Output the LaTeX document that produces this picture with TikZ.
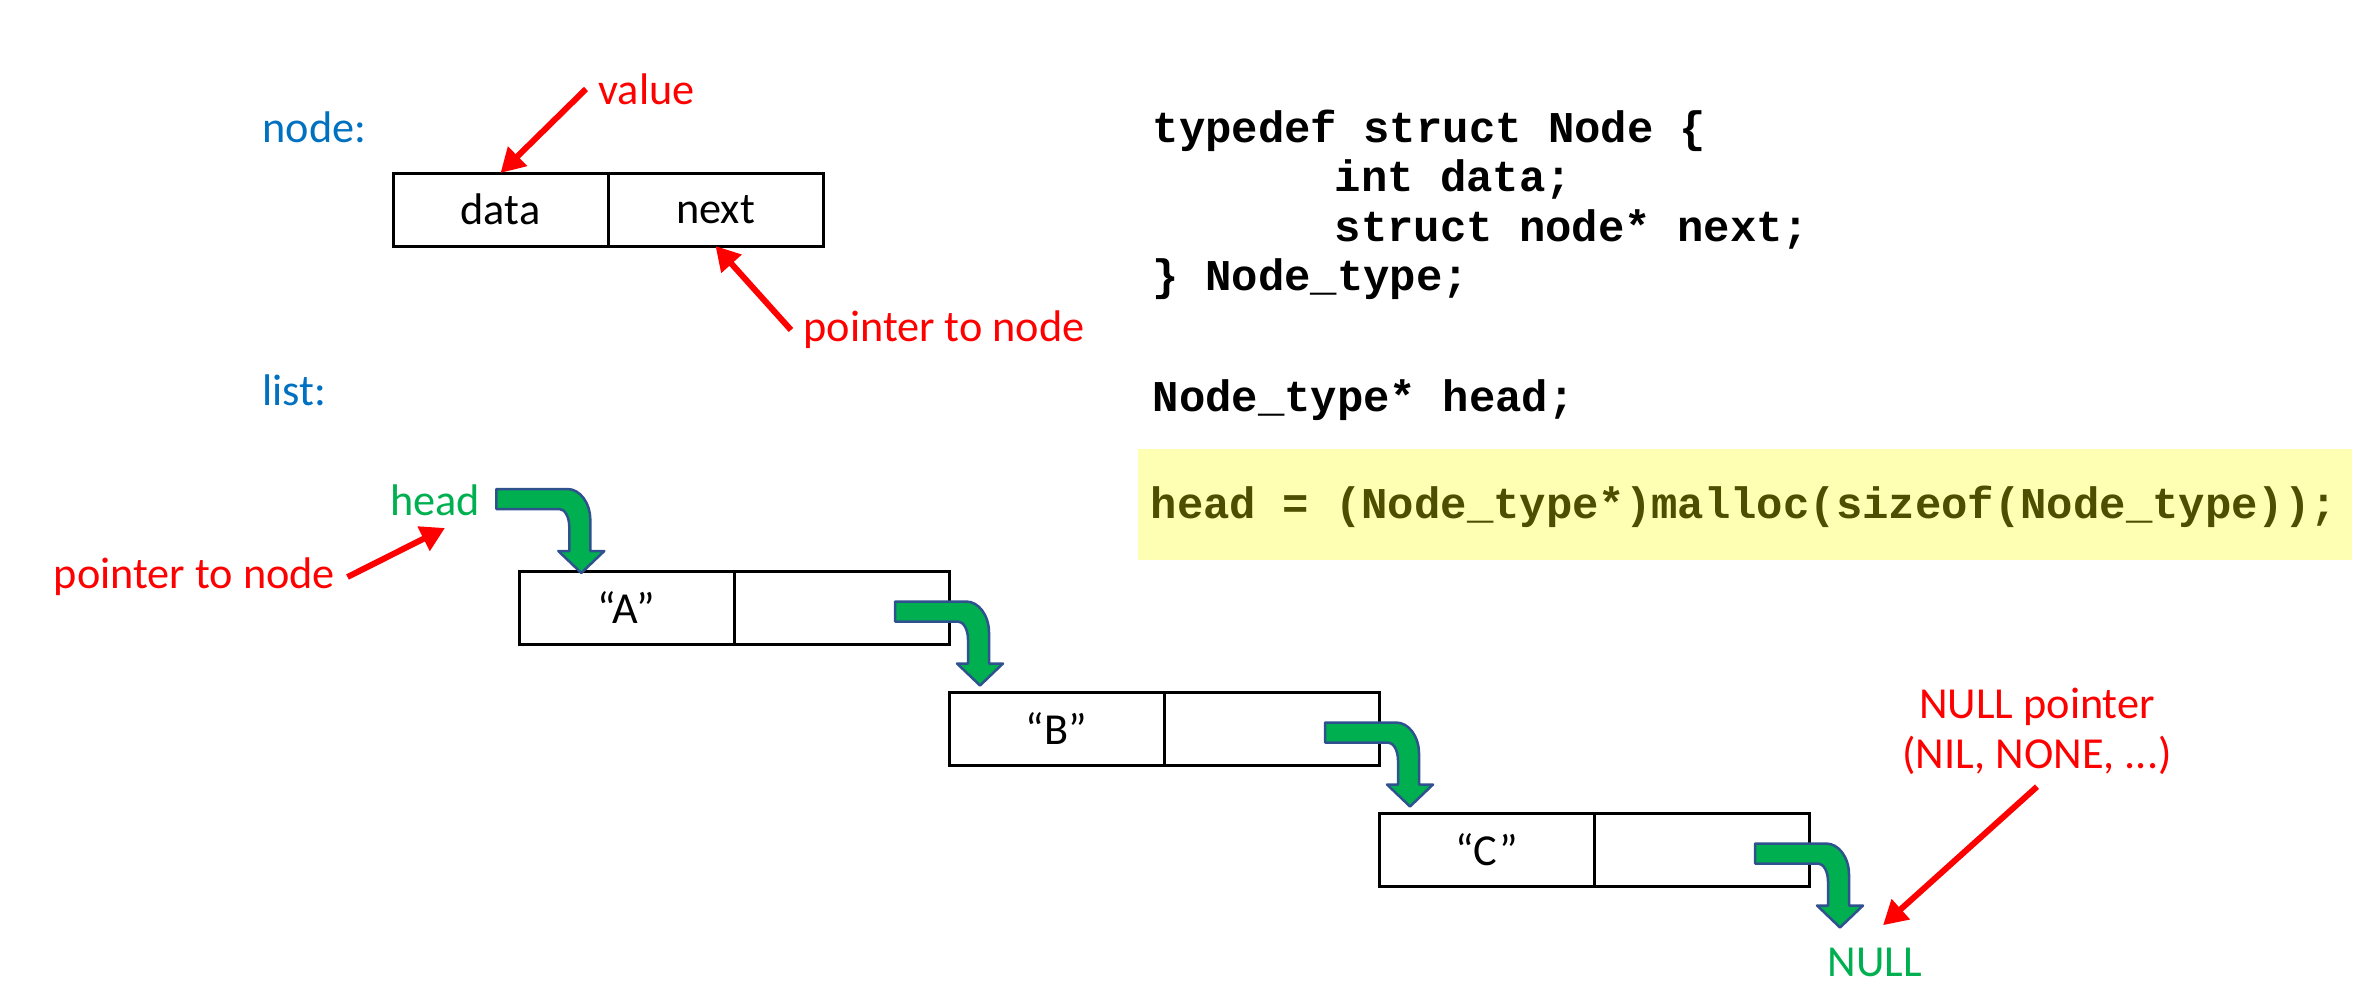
\documentclass[tikz,border=0pt]{standalone}
\usepackage{fontspec}
\setmainfont{Carlito}
\setmonofont{Liberation Mono}
\usetikzlibrary{arrows.meta,positioning}
\definecolor{lblblue}{RGB}{0,112,192}
\definecolor{lblgreen}{RGB}{0,176,80}
\definecolor{arrowgreen}{RGB}{0,176,80}
\definecolor{arrowedge}{RGB}{47,82,143}
\definecolor{codebg}{RGB}{255,255,180}
\definecolor{codetext}{RGB}{78,78,0}

\begin{document}
\begin{tikzpicture}[x=1cm, y=1cm,
		lbl/.style={font=\fontsize{12.6}{14.2}\selectfont},
		cell/.style={draw, line width=0.03cm, minimum width=2.15cm, minimum height=0.73cm, outer sep=0pt, lbl},
		code/.style={font=\fontsize{12.5}{14.2}\selectfont\ttfamily\bfseries, inner sep=0pt, anchor=base west},
		redptr/.style={draw=red, line width=0.06cm, -{Triangle[length=0.24cm, width=0.26cm]}},
		ptrarrow/.style={fill=arrowgreen, draw=arrowedge, line width=0.025cm, line join=round},
		nextptr/.pic={
			\draw[ptrarrow] (0,0) -- (0.71,0)
				arc[start angle=90, end angle=0, x radius=0.23, y radius=0.31]
				-- (0.94,-0.62) -- (1.08,-0.62) -- (0.85,-0.84) -- (0.62,-0.62) -- (0.73,-0.62) -- (0.73,-0.38)
				arc[start angle=0, end angle=90, x radius=0.10, y radius=0.18]
				-- (0,-0.20) -- cycle;
		}]
		\useasboundingbox (0,0) rectangle (23.70,-9.90);

		% Aufbau eines Knotens
		\node[lbl, text=lblblue, anchor=west] (nodelbl) at (2.50,-1.27) {node:};
		\node[lbl, text=red, anchor=west] (valuelbl) at (5.86,-0.89) {value};
		\node[cell] (data) at (5.005,-2.095) {data};
		\node[cell, right=0pt of data] (next) {next};
		\node[lbl, text=red, anchor=west] (nextlbl) at (7.91,-3.30) {pointer to node};

		\draw[redptr] (valuelbl.west) -- (data.north);
		\draw[redptr] (nextlbl.west) -- (next.south);

		% C-Code
		\node[code] (code1) at (11.52,-1.42) {typedef struct Node \{};
		\node[code] (code2) at (13.34,-1.91) {int data;};
		\node[code] (code3) at (13.34,-2.41) {struct node* next;};
		\node[code] (code4) at (11.52,-2.90) {\} Node\_type;};
		\node[code] (decl) at (11.52,-4.11) {Node\_type* head;};
		\fill[codebg] (11.38,-4.49) rectangle (23.52,-5.60);
		\node[code, text=codetext] (alloc) at (11.50,-5.18) {head = (Node\_type*)malloc(sizeof(Node\_type));};

		% die Liste
		\node[lbl, text=lblblue, anchor=west] (listlbl) at (2.50,-3.90) {list:};
		\node[lbl, text=lblgreen] (headlbl) at (4.35,-5.00) {head};
		\node[lbl, text=red] (headptrlbl) at (1.945,-5.77) {pointer to node};

		\node[cell] (dataA) at (6.265,-6.08) {“A”};
		\node[cell, right=0pt of dataA] (nextA) {};
		\node[cell] (dataB) at (10.565,-7.29) {“B”};
		\node[cell, right=0pt of dataB] (nextB) {};
		\node[cell] (dataC) at (14.865,-8.50) {“C”};
		\node[cell, right=0pt of dataC] (nextC) {};

		\node[lbl, text=lblgreen] (nulllbl) at (18.75,-9.62) {NULL};
		\node[lbl, text=red, align=center] (nullinfo) at (20.37,-7.31) {NULL pointer\\(NIL, NONE, ...)};

		% Zeiger
		\pic at ([shift={(0.04,0.11)}]headlbl.east) {nextptr};
		\pic at ([shift={(-0.54,-0.30)}]nextA.north east) {nextptr};
		\pic at ([shift={(-0.54,-0.30)}]nextB.north east) {nextptr};
		\pic at ([shift={(-0.54,-0.30)}]nextC.north east) {nextptr};

		\draw[redptr] (headptrlbl.east) -- ([xshift=0.1cm]headlbl.south);
		\draw[redptr] (nullinfo.south) -- ([shift={(0.08,0.1)}]nulllbl.north);
	\end{tikzpicture}
\end{document}
